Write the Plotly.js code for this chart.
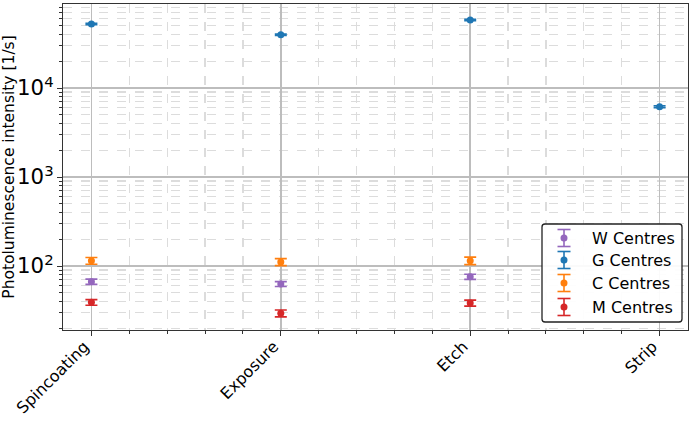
<!DOCTYPE html>
<html>
<head>
<meta charset="utf-8">
<script src="https://cdn.plot.ly/plotly-3.0.1.min.js"></script>
<style>html,body{margin:0;padding:0;background:#fff;}#chart{width:695px;height:422px;}</style>
</head>
<body>
<div id="chart"></div>
<script>
const categories = ["Spincoating", "Exposure", "Etch", "Strip"];

const seriesNames = ["W Centres", "G Centres", "C Centres", "M Centres"];
const seriesColors = ["#9467bd", "#1f77b4", "#ff7f0e", "#d62728"];

const wValues = [66.7, 62.8, 75.8, null];
const wErrors = [4.5, 4, 5, null];
const gValues = [52300, 39700, 58100, 6170];
const gErrors = [900, 700, 1000, 150];
const cValues = [114.7, 111, 114.7, null];
const cErrors = [10, 10, 11, null];
const mValues = [39.1, 29.4, 38.4, null];
const mErrors = [2.8, 2.6, 3, null];

const allValues = [wValues, gValues, cValues, mValues];
const allErrors = [wErrors, gErrors, cErrors, mErrors];

const xIdx = categories.map((c, i) => i);
const FONT = "DejaVu Sans";

const traces = allValues.map((vals, k) => ({
  type: "scatter",
  mode: "markers",
  name: seriesNames[k],
  x: xIdx,
  y: vals,
  marker: {color: seriesColors[k], size: 7},
  error_y: {type: "data", array: allErrors[k], visible: true, color: seriesColors[k], thickness: 1.6, width: 6},
  showlegend: false
}));

// plot area in pixels (for manual legend)
const L = 63, R = 7, T = 4, B = 92, W = 695, H = 422;
const pw = W - L - R, ph = H - T - B;
const px = x => (x - L) / pw;
const py = y => (H - B - y) / ph;

const shapes = [];
const annotations = [];
// legend box with rounded corners
(function () {
  const x0 = 542, x1 = 682, y0 = 224, y1 = 322, r = 3;
  const path = `M ${px(x0 + r)} ${py(y0)} L ${px(x1 - r)} ${py(y0)} Q ${px(x1)} ${py(y0)} ${px(x1)} ${py(y0 + r)} ` +
    `L ${px(x1)} ${py(y1 - r)} Q ${px(x1)} ${py(y1)} ${px(x1 - r)} ${py(y1)} ` +
    `L ${px(x0 + r)} ${py(y1)} Q ${px(x0)} ${py(y1)} ${px(x0)} ${py(y1 - r)} ` +
    `L ${px(x0)} ${py(y0 + r)} Q ${px(x0)} ${py(y0)} ${px(x0 + r)} ${py(y0)} Z`;
  shapes.push({type: "path", xref: "paper", yref: "paper", path: path, layer: "above",
    fillcolor: "rgba(255,255,255,0.92)", line: {color: "#222", width: 1.3}});
})();
const rowsY = [238, 260, 283, 307];
const symX = 564, textX = 590;
seriesNames.forEach((name, k) => {
  const yc = rowsY[k], c = seriesColors[k];
  const ln = {color: c, width: 1.6};
  shapes.push({type: "line", xref: "paper", yref: "paper", layer: "above", x0: px(symX), x1: px(symX), y0: py(yc - 8.5), y1: py(yc + 8.5), line: ln});
  shapes.push({type: "line", xref: "paper", yref: "paper", layer: "above", x0: px(symX - 6.5), x1: px(symX + 6.5), y0: py(yc - 8.5), y1: py(yc - 8.5), line: ln});
  shapes.push({type: "line", xref: "paper", yref: "paper", layer: "above", x0: px(symX - 6.5), x1: px(symX + 6.5), y0: py(yc + 8.5), y1: py(yc + 8.5), line: ln});
  shapes.push({type: "circle", xref: "paper", yref: "paper", layer: "above", x0: px(symX - 3.5), x1: px(symX + 3.5), y0: py(yc - 3.5), y1: py(yc + 3.5), fillcolor: c, line: {color: c, width: 0}});
  annotations.push({xref: "paper", yref: "paper", x: px(textX), y: py(yc), xanchor: "left", yanchor: "middle",
    text: name, showarrow: false, font: {family: FONT, size: 16, color: "#000"}});
});

const layout = {
  width: W, height: H,
  margin: {l: L, r: R, t: T, b: B},
  paper_bgcolor: "#fff", plot_bgcolor: "#fff",
  font: {family: FONT, size: 16, color: "#000"},
  showlegend: false,
  xaxis: {
    range: [-0.15, 3.15],
    tickvals: xIdx, ticktext: categories,
    tickangle: -45,
    ticklabelshift: -7, ticklabelstandoff: -5,
    ticks: "outside", ticklen: 5, tickwidth: 1, tickcolor: "#333",
    showgrid: true, gridcolor: "#bdbdbd", gridwidth: 1.5,
    minor: {dtick: 0.2, ticks: "outside", ticklen: 3, tickcolor: "#333", showgrid: true, gridcolor: "#dcdcdc", gridwidth: 1.2, griddash: "dash"},
    showline: true, linecolor: "#333", linewidth: 1, mirror: true,
    zeroline: false, automargin: false,
    tickfont: {family: FONT, size: 16, color: "#000"}
  },
  yaxis: {
    type: "log",
    range: [1.281, 4.944],
    dtick: 1,
    exponentformat: "power",
    ticks: "outside", ticklen: 5, tickwidth: 1, tickcolor: "#333",
    showgrid: true, gridcolor: "#bdbdbd", gridwidth: 1.5,
    minor: {dtick: "D1", ticks: "outside", ticklen: 3, tickcolor: "#333", showgrid: true, gridcolor: "#dcdcdc", gridwidth: 1.2, griddash: "dash"},
    showline: true, linecolor: "#333", linewidth: 1, mirror: true,
    zeroline: false, automargin: false,
    tickfont: {family: FONT, size: 17, color: "#000"},
    title: {text: "Photoluminescence intensity [1/s]", font: {family: FONT, size: 15.5, color: "#000"}, standoff: 4}
  },
  shapes: shapes,
  annotations: annotations
};

Plotly.newPlot("chart", traces, layout, {displayModeBar: false, staticPlot: true});
</script>
</body>
</html>
